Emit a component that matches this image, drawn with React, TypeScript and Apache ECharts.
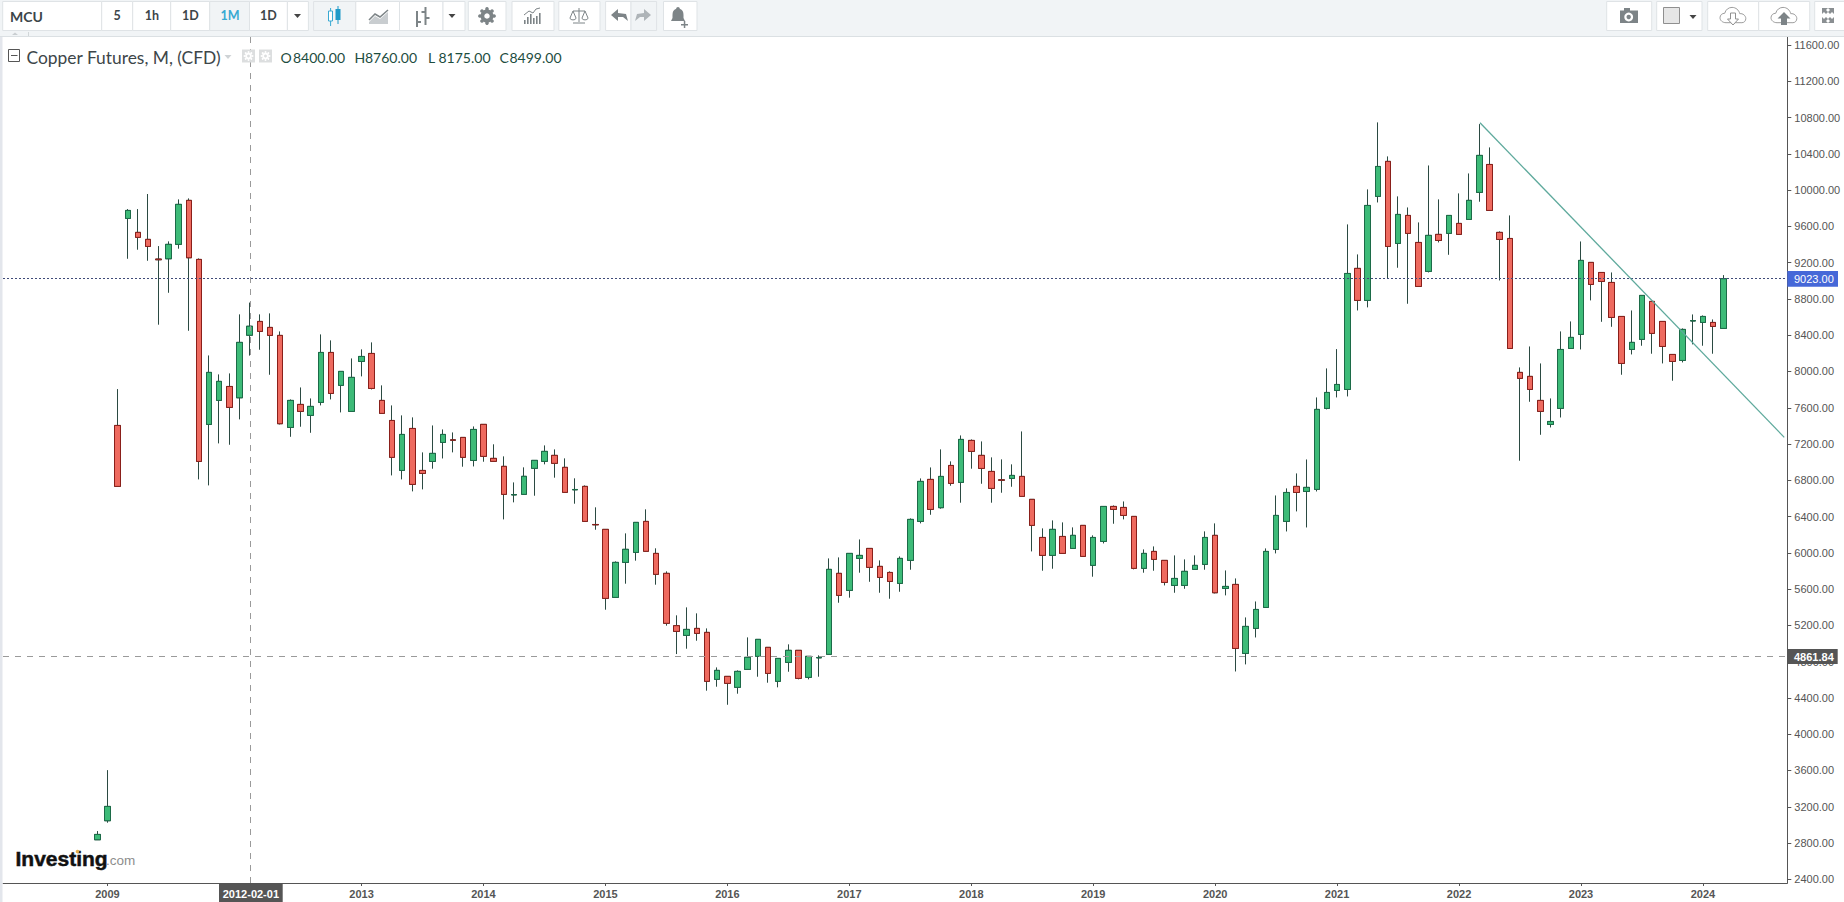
import React, { useEffect, useRef } from "react";
import * as echarts from "echarts";

const opens = [2836,3046,7405,9688,9534,9457,9240,9243,9402,9887,9236,7416,7681,7835,7710,8400,8552,8486,8398,7383,7637,7516,7659,8210,7847,7560,8111,8199,7681,7460,6909,7372,6909,7008,7218,7246,7273,7019,7417,7042,6954,6639,6645,6932,7009,7075,6943,6695,6733,6313,6259,5509,5895,6005,6347,5994,5774,5197,5090,5167,5123,4605,4638,4517,4715,4859,4958,4583,4792,4925,4627,4842,4881,5774,5586,5939,6049,5851,5784,5663,5917,6347,6810,6498,6964,6777,7240,7075,6898,6805,6821,6843,6590,6170,5972,6181,6049,6303,5862,6126,6512,6501,6402,5829,6016,5917,5641,5641,5818,5873,6193,5608,5652,4891,5167,5398,6038,6347,6733,6677,6700,7593,7791,7802,9137,8784,9931,10317,9412,9721,9423,9104,9512,9523,9633,9677,9975,10283,9534,9467,7990,7946,7681,7416,7593,8254,8409,9203,9092,8982,8607,8243,8354,8773,8552,8188,8122,8557,8541,8541,8475];
const closes = [2895,3204,6733,9776,9479,9379,9232,9402,9843,9254,7008,7990,7891,7604,8321,8499,8442,8398,7424,7681,7560,7615,8210,7758,8001,7935,8166,7813,7538,7053,7306,6755,6876,7097,7306,7242,7053,7361,7064,7009,6645,6643,6844,7020,7119,6987,6667,6699,6347,6309,5498,5895,6039,6336,6017,5763,5223,5134,5156,5112,4583,4704,4561,4693,4848,5046,4671,4836,4925,4616,4859,4846,5818,5531,5994,5972,5840,5729,5685,5939,6369,6788,6479,6843,6766,7251,7119,6931,6711,6801,6854,6623,6303,5972,6259,5994,6193,5961,6170,6512,6479,6413,5829,5994,5928,5674,5718,5796,5862,6170,5560,5630,4946,5189,5376,6016,6413,6666,6666,6722,7582,7769,7857,9081,8784,9831,10261,9379,9732,9523,8938,9501,9445,9721,9512,9887,10383,9776,9456,8254,7924,7802,7560,7449,8243,8376,9225,8960,8993,8596,8089,8321,8839,8420,8276,8111,8464,8561,8607,8497,9023];
const lows = [2836,3024,6733,9243,9343,9221,8516,8868,9354,8449,6810,6744,7207,7192,7472,8175,8240,7964,7416,7280,7391,7324,7626,7692,7549,7560,7946,7802,7538,6854,6810,6678,6700,6928,7041,7108,6950,6953,7005,7009,6369,6557,6645,6630,6976,6829,6667,6542,6347,6255,5373,5509,5660,5914,6017,5649,5197,4884,4943,5031,4480,4524,4325,4447,4715,4634,4568,4517,4689,4605,4605,4634,4881,5450,5506,5781,5681,5560,5494,5571,5814,6325,6420,6487,6740,6553,6928,6762,6553,6663,6729,6623,6016,5803,5825,5994,6049,5961,5737,6104,6321,6369,5818,5781,5803,5641,5560,5604,5818,5814,5553,5531,4692,4770,5067,5398,5994,6236,6457,6280,6677,7582,7714,7725,8673,8707,9864,9026,9144,8747,8938,9092,9423,9287,9512,9677,9872,9776,9004,8254,7016,7666,7302,7383,7493,8254,8243,8784,8548,8493,7964,8188,8284,8196,8089,7898,8100,8299,8284,8196,8475];
const highs = [2932,3604,7806,9791,9791,9957,9383,9435,9898,9909,9247,8177,7968,7979,8630,8760,8630,8641,8442,7692,7824,7703,8409,8343,8001,8144,8244,8321,7847,7626,7516,7494,7108,7405,7361,7328,7273,7394,7417,7197,7064,6777,6943,7020,7185,7141,7042,6822,6744,6502,6259,5906,6215,6336,6480,6050,5796,5311,5399,5333,5167,4737,4638,4704,5068,5046,4958,4836,4991,4925,4859,4870,5939,5950,5994,6148,6049,5917,5796,5961,6380,6821,6942,7141,7009,7295,7251,7229,7053,7031,6976,7339,6590,6270,6358,6336,6281,6303,6193,6512,6523,6567,6402,6038,6071,5917,5972,5928,5972,6237,6325,5806,5718,5288,5464,6049,6633,6711,6876,7030,7714,8034,8247,9622,9291,10008,10747,10372,9931,9809,9644,10272,9898,9721,9964,10184,10728,10471,9545,9721,8045,8276,8089,7703,8442,8552,9434,9203,9092,9092,8607,8673,8839,8773,8552,8188,8475,8629,8618,8574,9063];

const priceTicks = [2400,2800,3200,3600,4000,4400,4800,5200,5600,6000,6400,6800,7200,7600,8000,8400,8800,9200,9600,10000,10400,10800,11200,11600];
const yearTickBars = [1,26,38,50,62,74,86,98,110,122,134,146,158];
const yearTickLabels = ["2009","2013","2014","2015","2016","2017","2018","2019","2020","2021","2022","2023","2024"];
const trendBars = [136.06, 166];
const trendValues = [10743, 7274];
const lastPrice = 9023;
const crossPrice = 4861.84;
const crossBar = 15.1;

const Z = 100;
const ARIAL = '"Liberation Sans", Arial, sans-serif';
const UI = 'Lato, "Open Sans", sans-serif';

function rect(x: number, y: number, w: number, h: number, fill: string, stroke?: string, z = Z): any {
  return { type: "rect", z, silent: true, shape: { x, y, width: w, height: h }, style: { fill, stroke: stroke || "none", lineWidth: stroke ? 1 : 0 } };
}
function txt(text: string, x: number, y: number, font: string, fill: string, align = "left", z = Z + 2): any {
  return { type: "text", z, silent: true, style: { text, x, y, font, fill, align, textAlign: align, verticalAlign: "middle", textVerticalAlign: "middle" } };
}
function tri(cx: number, cy: number, w: number, h: number, fill: string): any {
  return { type: "polygon", z: Z + 2, silent: true, shape: { points: [[cx - w / 2, cy], [cx + w / 2, cy], [cx, cy + h]] }, style: { fill } };
}
function poly(points: number[][], stroke: string, lineWidth = 1.5): any {
  return { type: "polyline", z: Z + 2, silent: true, shape: { points }, style: { stroke, lineWidth, fill: "none" } };
}
function fillPoly(points: number[][], fill: string): any {
  return { type: "polygon", z: Z + 2, silent: true, shape: { points }, style: { fill } };
}
function gear(cx: number, cy: number, r: number, fill: string): any[] {
  const out: any[] = [{ type: "ring", z: Z + 2, silent: true, shape: { cx, cy, r, r0: r * 0.42 }, style: { fill } }];
  for (let k = 0; k < 8; k++) {
    const a = (k * Math.PI) / 4;
    out.push({ type: "circle", z: Z + 2, silent: true, shape: { cx: cx + Math.cos(a) * (r + 0.6), cy: cy + Math.sin(a) * (r + 0.6), r: r * 0.28 }, style: { fill } });
  }
  return out;
}

const cloudPath = "M7 18 C3 18 0 15.5 0 12.5 C0 9.5 2.5 7.5 5.5 7.5 C6.5 3.5 10 1 14 1 C18.5 1 22 4 23 8 C26.5 7.5 30 10 30 13.5 C30 16 28 18 25.5 18 Z";
const bellPath = "M7 0 C8 0 8.8 0.8 8.8 1.8 C11.5 2.6 12.5 5 12.5 8 L12.5 11 L14 14 L0 14 L1.5 11 L1.5 8 C1.5 5 2.5 2.6 5.2 1.8 C5.2 0.8 6 0 7 0 Z";
const scalePath = "M9 0 L9 14 M3 15 L15 15 M3 3 L15 3 M3 3 L0 10 C0 12.5 6 12.5 6 10 Z M15 3 L12 10 C12 12.5 18 12.5 18 10 Z";
echarts.graphic.registerShape("cloudIcon", echarts.graphic.extendPath(cloudPath as any, {}) as any);
echarts.graphic.registerShape("bellIcon", echarts.graphic.extendPath(bellPath as any, {}) as any);
echarts.graphic.registerShape("scaleIcon", echarts.graphic.extendPath(scalePath as any, {}) as any);

function toolbarElements(): any[] {
  const B = "#dfe3e6";
  const SEL = "#f1f4f6";
  const INK = "#3c4549";
  const ICON = "#7d8487";
  const els: any[] = [];
  els.push(rect(0, 0, 1844, 36.5, "#f1f4f6", undefined, Z - 2));
  els.push(rect(0, 36, 1844, 1, "#dbe0e3", undefined, Z - 1));
  els.push(rect(0, 36.5, 2.5, 866, "#e3e6ec", undefined, Z - 2));
  const boxes: [number, number, string][] = [
    [2.7, 99, "#fff"], [101.7, 31, "#fff"], [132.7, 38, "#fff"], [170.7, 39, "#fff"], [209.7, 39.8, SEL], [249.5, 37.9, "#fff"], [287.4, 21, "#fff"],
    [313.6, 42.2, SEL], [355.8, 43.7, "#fff"], [399.5, 43.5, "#fff"], [443, 22, "#fff"],
    [468.3, 37.7, "#fff"], [512, 42, "#fff"], [558.8, 41.2, "#fff"], [605.6, 25.4, "#fff"], [631, 25.6, SEL], [663.5, 33.5, "#fff"],
    [1606.7, 45, "#fff"], [1656.7, 45.3, "#fff"], [1707.7, 51, "#fff"], [1758.7, 51, "#fff"], [1814.7, 30, "#fff"],
  ];
  boxes.forEach(([x, w, f]) => els.push(rect(x, 1.5, w, 29, f, B, Z)));
  els.push(txt("MCU", 10, 16, `bold 14px ${UI}`, INK));
  els.push(txt("5", 117, 15.5, `bold 12.5px ${UI}`, INK, "center"));
  els.push(txt("1h", 152, 15.5, `bold 12.5px ${UI}`, INK, "center"));
  els.push(txt("1D", 190.5, 15.5, `bold 12.5px ${UI}`, INK, "center"));
  els.push(txt("1M", 230, 15.5, `bold 12.5px ${UI}`, "#39a9d2", "center"));
  els.push(txt("1D", 268.5, 15.5, `bold 12.5px ${UI}`, INK, "center"));
  els.push(tri(297.5, 14, 7, 4, "#444"));
  els.push(poly([[330.6, 8], [330.6, 26]], "#39a9d2", 1));
  els.push(rect(328.5, 11, 4, 10, "#fff", "#39a9d2", Z + 2));
  els.push(poly([[338, 6], [338, 24]], "#1f9ac8", 1));
  els.push(rect(335.5, 9, 5, 11, "#1f9ac8", undefined, Z + 2));
  els.push(fillPoly([[369, 22], [375, 16], [380, 19], [388, 12], [388, 24], [369, 24]], "#c9cdd0"));
  els.push(poly([[369, 20], [375, 14], [380, 17], [388, 10]], ICON, 1.5));
  els.push(poly([[417, 11], [417, 27]], ICON, 2));
  els.push(poly([[417, 22], [421, 22]], ICON, 2));
  els.push(poly([[425.5, 7], [425.5, 25]], ICON, 2));
  els.push(poly([[421.5, 12], [425.5, 12]], ICON, 2));
  els.push(poly([[425.5, 18], [429.5, 18]], ICON, 2));
  els.push(tri(452, 14, 7, 4, "#444"));
  gear(487, 16, 6.5, ICON).forEach((e) => els.push(e));
  [[524, 4], [527, 7], [530, 10], [533, 6], [536, 8], [539, 11]].forEach(([x, h]) => els.push(rect(x, 24 - h, 1.6, h, ICON)));
  els.push(poly([[524, 15], [529, 11], [533, 13], [536, 9], [540, 8]], ICON, 1));
  els.push({ type: "scaleIcon", x: 570, y: 8, scaleX: 1, scaleY: 1, z: Z + 2, silent: true, style: { fill: "none", stroke: ICON, lineWidth: 1 } });
  els.push(fillPoly([[611, 15], [618, 9], [618, 13], [626, 14], [628, 21], [623, 17], [618, 17], [618, 21]], ICON));
  els.push(fillPoly([[651, 15], [644, 9], [644, 13], [637, 14], [635, 21], [640, 17], [644, 17], [644, 21]], "#aeb4b8"));
  els.push({ type: "bellIcon", x: 671, y: 7, scaleX: 1, scaleY: 1, z: Z + 2, silent: true, style: { fill: ICON } });
  els.push(rect(681, 24, 7, 1.5, ICON, undefined, Z + 3));
  els.push(rect(683.8, 21, 1.5, 7, ICON, undefined, Z + 3));
  els.push(rect(1620, 10.5, 18, 12.5, ICON));
  els.push(rect(1624, 8, 6, 3, ICON));
  els.push({ type: "ring", z: Z + 3, silent: true, shape: { cx: 1628.7, cy: 17, r: 4.4, r0: 2.2 }, style: { fill: "#fff" } });
  els.push(rect(1663.5, 7.5, 16, 16, "#e6e6e6", "#8f8f8f", Z + 2));
  els.push(tri(1693, 15, 7, 4, "#444"));
  els.push({ type: "cloudIcon", x: 1720, y: 6.5, scaleX: 0.86, scaleY: 0.9, z: Z + 2, silent: true, style: { fill: "#fff", stroke: "#909090", lineWidth: 1 } });
  els.push(fillPoly([[1730.5, 13], [1735.5, 13], [1735.5, 19], [1738.5, 19], [1733, 25], [1727.5, 19], [1730.5, 19]], "#fff"));
  els.push(poly([[1730.5, 13], [1735.5, 13], [1735.5, 19], [1738.5, 19], [1733, 25], [1727.5, 19], [1730.5, 19], [1730.5, 13]], "#909090", 1));
  els.push({ type: "cloudIcon", x: 1771, y: 6.5, scaleX: 0.86, scaleY: 0.9, z: Z + 2, silent: true, style: { fill: "#fff", stroke: "#909090", lineWidth: 1 } });
  els.push(fillPoly([[1784, 12], [1790.5, 18.5], [1787, 18.5], [1787, 25], [1781, 25], [1781, 18.5], [1777.5, 18.5]], "#7d8487"));
  [[1822, 8, 1, 1], [1834, 8, -1, 1], [1822, 23, 1, -1], [1834, 23, -1, -1]].forEach(([x, y, sx, sy]) =>
    els.push(fillPoly([[x, y], [x + 6 * sx, y], [x + 4 * sx, y + 2 * sy], [x + 6 * sx, y + 4 * sy], [x + 4 * sx, y + 6 * sy], [x + 2 * sx, y + 4 * sy], [x, y + 6 * sy]], "#8a8f92"))
  );
  els.push(fillPoly([[15, 32.5], [12, 35], [18, 35]], "#c9ced1"));
  els.push(rect(28, 32, 0.8, 4, "#c9ced1"));
  return els;
}

function legendElements(): any[] {
  const TEAL = "#1d4d3f";
  const els: any[] = [];
  els.push(rect(8.5, 49.5, 11, 12, "#fff", "#555", Z + 1));
  els.push(rect(11, 55, 6.5, 1, "#555", undefined, Z + 2));
  els.push(txt("Copper Futures, M, (CFD)", 26.5, 57, `17.4px ${UI}`, "#3d4649"));
  els.push(tri(228, 55, 7, 4, "#cfd3d6"));
  [248.5, 265.5].forEach((cx) => {
    els.push(rect(cx - 6.5, 49.5, 13, 13, "#dcdedf", undefined, Z + 1));
    gear(cx, 56, 3.4, "#fff").forEach((e) => els.push(e));
  });
  els.push(txt("O", 280.5, 57, `14px ${UI}`, TEAL));
  els.push(txt("8400.00", 293, 57, `14px ${UI}`, TEAL));
  els.push(txt("H", 354.5, 57, `14px ${UI}`, TEAL));
  els.push(txt("8760.00", 365, 57, `14px ${UI}`, TEAL));
  els.push(txt("L", 428, 57, `14px ${UI}`, TEAL));
  els.push(txt("8175.00", 438.5, 57, `14px ${UI}`, TEAL));
  els.push(txt("C", 499.5, 57, `14px ${UI}`, TEAL));
  els.push(txt("8499.00", 509.5, 57, `14px ${UI}`, TEAL));
  return els;
}

function tagElements(): any[] {
  const els: any[] = [];
  els.push(rect(1788, 884, 56, 18, "#fff", undefined, Z - 1));
  els.push(rect(1787.3, 271, 50.7, 15.7, "#4668d8"));
  els.push(txt("9023.00", 1794, 279, `11px ${ARIAL}`, "#fff"));
  els.push(rect(1787.3, 649, 50.4, 15, "#555"));
  els.push(txt("4861.84", 1794, 657, `bold 11px ${ARIAL}`, "#fff"));
  els.push(rect(219, 883.5, 63.7, 18.5, "#555"));
  els.push(txt("2012-02-01", 250.9, 894, `bold 11px ${ARIAL}`, "#fff", "center"));
  const brand = txt("Investing", 15.5, 858, `bold 21px ${ARIAL}`, "#111");
  brand.style.stroke = "#111";
  brand.style.lineWidth = 0.5;
  els.push(brand);
  els.push(txt(".com", 106, 860, `13.5px ${ARIAL}`, "#8d8d8d"));
  els.push({ type: "circle", z: Z + 3, silent: true, shape: { cx: 77.5, cy: 851.5, r: 1.8 }, style: { fill: "#e6b04a" } });
  return els;
}

export default function App() {
  const ref = useRef<HTMLDivElement>(null);
  useEffect(() => {
    document.body.style.margin = "0";
    document.body.style.overflow = "hidden";
    const chart = echarts.init(ref.current!, undefined, { renderer: "svg" });
    const full = opens.map((o, i) => [i, o, closes[i], lows[i], highs[i]]);
    const bodies = opens.map((o, i) => [i, o, closes[i], Math.min(o, closes[i]), Math.max(o, closes[i])]);
    const wick = "#2b4a42";
    chart.setOption({
      animation: false,
      backgroundColor: "#fff",
      grid: { left: 3, top: 36.6, width: 1784.3, height: 846.4, containLabel: false },
      xAxis: {
        type: "value",
        min: -9.279,
        max: 166.3,
        splitLine: { show: false },
        axisLine: { onZero: false, lineStyle: { color: "#555", width: 1 } },
        axisTick: { show: true, length: 3, lineStyle: { color: "#555" }, customValues: yearTickBars },
        axisLabel: {
          customValues: yearTickBars,
          formatter: (v: number) => yearTickLabels[yearTickBars.indexOf(v)] ?? "",
          color: "#555",
          fontFamily: ARIAL,
          fontWeight: "bold",
          fontSize: 11,
          margin: 5,
          hideOverlap: false,
        },
      },
      yAxis: {
        type: "value",
        position: "right",
        min: 2359.4,
        max: 11693,
        splitLine: { show: false },
        axisLine: { show: true, onZero: false, lineStyle: { color: "#555", width: 1 } },
        axisTick: { show: true, length: 4, lineStyle: { color: "#555" }, customValues: priceTicks },
        axisLabel: {
          customValues: priceTicks,
          formatter: (v: number) => v.toFixed(2),
          color: "#555",
          fontFamily: ARIAL,
          fontSize: 11,
          margin: 7,
          hideOverlap: false,
        },
      },
      series: [
        {
          name: "Copper Futures",
          type: "candlestick",
          data: full,
          barWidth: 6,
          silent: true,
          z: 3,
          itemStyle: { color: wick, color0: wick, borderColor: wick, borderColor0: wick, borderColorDoji: wick, borderWidth: 1 },
          markLine: {
            silent: true,
            symbol: "none",
            animation: false,
            label: { show: false },
            emphasis: { disabled: true },
            data: [
              { yAxis: lastPrice, lineStyle: { color: "#3f4a78", type: [2, 2], width: 1 } },
              { yAxis: crossPrice, lineStyle: { color: "#9a9a9a", type: [6, 6], width: 1 } },
              { xAxis: crossBar, lineStyle: { color: "#9a9a9a", type: [6, 6], width: 1 } },
            ],
          },
        },
        {
          name: "Bodies",
          type: "candlestick",
          data: bodies,
          barWidth: 6,
          silent: true,
          z: 4,
          itemStyle: { color: "#3dbb78", color0: "#ee6a5f", borderColor: "#1c6b48", borderColor0: "#8a1f1a", borderColorDoji: "#1c5a42", borderWidth: 1 },
        },
        {
          name: "Trend line",
          type: "line",
          data: trendBars.map((x, i) => [x, trendValues[i]]),
          showSymbol: false,
          silent: true,
          z: 5,
          lineStyle: { color: "#5ea99c", width: 1.3 },
        },
      ],
      graphic: { elements: [...toolbarElements(), ...legendElements(), ...tagElements()] },
    });
    return () => chart.dispose();
  }, []);
  return <div ref={ref} style={{ width: 1844, height: 902 }} />;
}
